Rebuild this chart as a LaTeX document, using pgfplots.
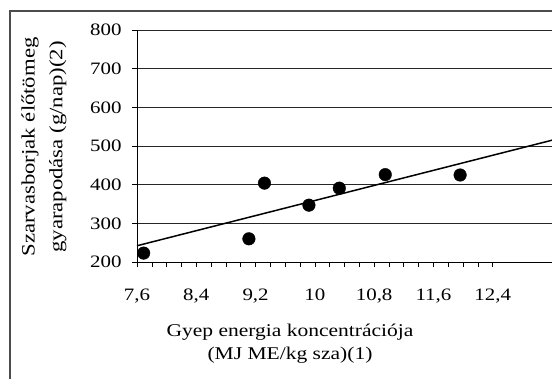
\documentclass[border=0pt]{standalone}
\usepackage{pgfplots}
\pgfplotsset{compat=1.18}
\usepackage{fontspec}
\setmainfont{Liberation Serif}[FakeStretch=1.2]
\begin{document}
\begin{tikzpicture}[x=1bp,y=1bp]
\useasboundingbox (0,0) rectangle (552,379);
\begin{axis}[
  at={(137bp,117bp)}, anchor=south west,
  scale only axis, width=415bp, height=232bp,
  xmin=7.6, xmax=13.2, ymin=200, ymax=800,
  axis x line*=bottom, axis y line*=left,
  axis line style={black, line width=0.8bp},
  xtick={7.6,8.4,9.2,10,10.8,11.6,12.4},
  minor x tick num=3,
  ytick={200,300,...,800},
  tick align=outside,
  major tick length=5bp, minor tick length=5bp,
  tick style={black, line width=0.6bp},
  ymajorgrids, grid style={black!85, line width=0.7bp},
  /pgf/number format/use comma, /pgf/number format/fixed, /pgf/number format/precision=1,
  /pgf/number format/assume math mode=true,
  xticklabel style={font=\fontsize{17.5}{20}\selectfont, anchor=north, yshift=-18bp},
  yticklabel style={font=\fontsize{17.5}{20}\selectfont, anchor=east, xshift=-7bp},
  clip=false,
]
\addplot[black, line width=1.5bp] coordinates {(7.6,242) (13.2,515)};
\addplot[only marks, mark=*, mark size=6.3bp, mark options={fill=black, draw=black}] coordinates {
(7.69,223) (9.11,260) (9.32,404) (9.92,347) (10.33,391) (10.95,426) (11.96,425)};
\end{axis}
\draw[black!70, line width=1.2bp] (10,0) -- (10,368) -- (552,368);
\node[rotate=90, align=center, font=\fontsize{19}{28}\selectfont] at (44,232) {Szarvasborjak élőtömeg\\gyarapodása (g/nap)(2)};
\node[align=center, font=\fontsize{18}{23}\selectfont] at (290,35) {Gyep energia koncentrációja\\(MJ ME/kg sza)(1)};
\end{tikzpicture}
\end{document}
